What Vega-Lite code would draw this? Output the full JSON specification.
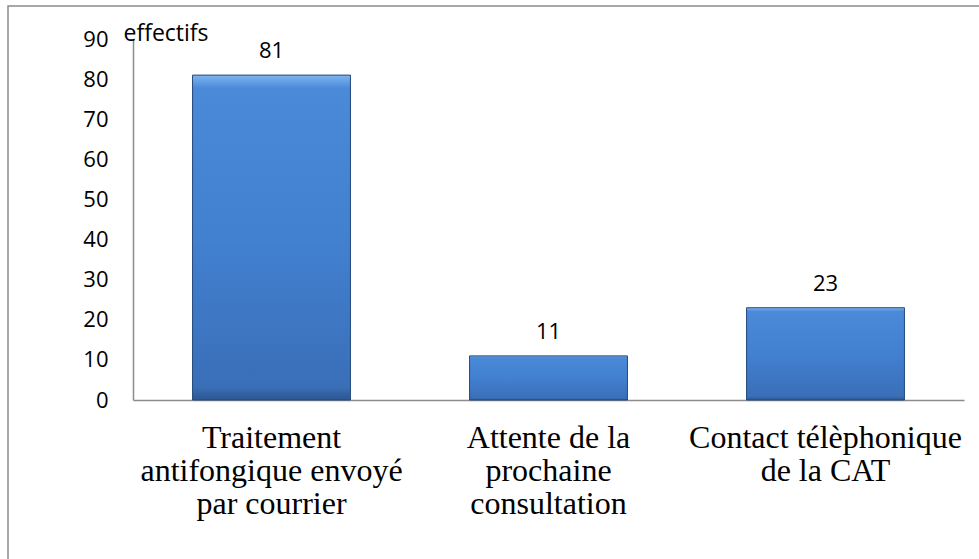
{
  "$schema": "https://vega.github.io/schema/vega-lite/v6.json",
  "width": 975,
  "height": 560,
  "autosize": {"type": "none"},
  "padding": {"left": 8, "top": 6, "right": 0, "bottom": 0},
  "background": "white",
  "config": {"view": {"stroke": "#8c8c8c", "strokeWidth": 1.5}},
  "data": {
    "values": [
      {"categorie": "Traitement|antifongique envoyé|par courrier", "effectifs": 81},
      {"categorie": "Attente de la|prochaine|consultation", "effectifs": 11},
      {"categorie": "Contact télèphonique|de la CAT", "effectifs": 23}
    ]
  },
  "encoding": {
    "x": {
      "field": "categorie",
      "type": "nominal",
      "sort": null,
      "scale": {"paddingInner": 0.43, "paddingOuter": 0.215, "range": [125, 956]},
      "axis": {
        "title": null,
        "offset": -166,
        "labelAngle": 0,
        "labelExpr": "split(datum.label, '|')",
        "labelFont": "Liberation Serif",
        "labelFontSize": 32,
        "labelLineHeight": 33,
        "labelBaseline": "alphabetic",
        "labelColor": "#000000",
        "labelPadding": 47,
        "ticks": false,
        "domainColor": "#8c8c8c",
        "domainWidth": 1.5,
        "labelLimit": 400
      }
    },
    "y": {
      "field": "effectifs",
      "type": "quantitative",
      "scale": {"domain": [0, 90], "nice": false, "range": [394, 33]},
      "axis": {
        "offset": -125,
        "values": [0, 10, 20, 30, 40, 50, 60, 70, 80, 90],
        "grid": false,
        "ticks": false,
        "labelFont": "Open Sans",
        "labelFontSize": 22,
        "labelColor": "#000000",
        "labelPadding": 25,
        "domainColor": "#8c8c8c",
        "domainWidth": 1.5,
        "title": "effectifs",
        "titleAngle": 0,
        "titleAlign": "left",
        "titleBaseline": "alphabetic",
        "titleX": -10,
        "titleY": 34,
        "titleFont": "Open Sans",
        "titleFontSize": 23,
        "titleFontWeight": "normal",
        "titleColor": "#000000"
      }
    }
  },
  "layer": [
    {
      "mark": {
        "type": "bar",
        "stroke": "#24497a",
        "strokeWidth": 1,
        "color": {
          "gradient": "linear",
          "x1": 0, "y1": 0, "x2": 0, "y2": 1,
          "stops": [
            {"offset": 0, "color": "#7fb5f0"},
            {"offset": 0.04, "color": "#4a8ad8"},
            {"offset": 0.5, "color": "#4280d0"},
            {"offset": 0.96, "color": "#3a6fb8"},
            {"offset": 1, "color": "#2c5690"}
          ]
        }
      }
    },
    {
      "mark": {
        "type": "text",
        "baseline": "alphabetic",
        "dy": -17,
        "font": "Open Sans",
        "fontSize": 22,
        "color": "#000000"
      },
      "encoding": {"text": {"field": "effectifs", "type": "quantitative"}}
    }
  ]
}
